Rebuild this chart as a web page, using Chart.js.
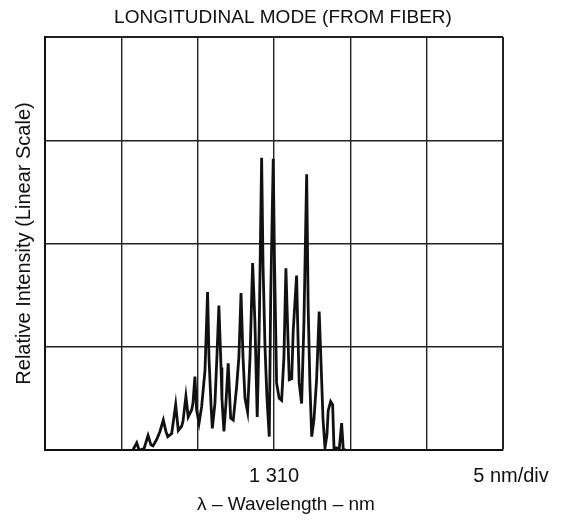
<!DOCTYPE html>
<html>
<head>
<meta charset="utf-8">
<script src="https://cdn.jsdelivr.net/npm/chart.js@4/dist/chart.umd.min.js"></script>
<style>
  html, body { margin: 0; padding: 0; background: #fff; }
  #wrap { width: 566px; height: 525px; }
</style>
</head>
<body>
<div id="wrap"><canvas id="graficaModo"></canvas></div>
<script>
// Longitudinal mode spectrum (from fiber)
const wavelengths = [
  1300.76, 1301.01, 1301.16, 1301.48, 1301.75, 1301.94, 1302.07, 1302.31, 1302.53, 1302.75,
  1302.92, 1303.04, 1303.30, 1303.56, 1303.73, 1303.95, 1304.04, 1304.23, 1304.38, 1304.61,
  1304.69, 1304.82, 1304.93, 1305.09, 1305.26, 1305.48, 1305.65, 1305.74, 1305.87, 1305.96,
  1306.13, 1306.26, 1306.39, 1306.53, 1306.59, 1306.72, 1306.85, 1307.00, 1307.16, 1307.33,
  1307.55, 1307.70, 1307.84, 1307.97, 1308.10, 1308.27, 1308.43, 1308.60, 1308.75, 1308.90,
  1309.03, 1309.19, 1309.28, 1309.41, 1309.54, 1309.69, 1309.78, 1309.95, 1310.03, 1310.17,
  1310.34, 1310.50, 1310.65, 1310.78, 1310.91, 1311.00, 1311.16, 1311.26, 1311.48, 1311.57,
  1311.65, 1311.81, 1311.96, 1312.14, 1312.24, 1312.35, 1312.47, 1312.62, 1312.79, 1312.96,
  1313.12, 1313.21, 1313.34, 1313.47, 1313.55, 1313.71, 1313.84, 1313.93, 1314.12, 1314.27,
  1314.43, 1314.54, 1314.71
];
const intensity = [
  0.00, 0.07, 0.00, 0.01, 0.14, 0.05, 0.04, 0.10, 0.18, 0.29,
  0.18, 0.13, 0.16, 0.44, 0.19, 0.23, 0.28, 0.52, 0.32, 0.39,
  0.45, 0.71, 0.39, 0.26, 0.42, 0.77, 1.53, 0.90, 0.45, 0.21,
  0.45, 0.90, 1.40, 0.80, 0.50, 0.18, 0.45, 0.84, 0.31, 0.29,
  0.61, 0.90, 1.52, 0.90, 0.50, 0.37, 0.90, 1.81, 1.24, 0.32,
  1.16, 2.83, 1.80, 1.00, 0.50, 0.13, 1.44, 2.82, 1.85, 0.65,
  0.50, 0.48, 0.90, 1.76, 1.10, 0.68, 0.69, 1.16, 1.69, 1.10,
  0.65, 0.45, 1.23, 2.67, 1.37, 0.65, 0.13, 0.30, 0.68, 1.34,
  0.68, 0.30, 0.02, 0.15, 0.38, 0.47, 0.44, 0.02, 0.02, 0.00,
  0.26, 0.00, 0.00
];
const xMin = 1295, xMax = 1325, xStep = 5;   // 5 nm/div
const yMin = 0, yMax = 4;
const centerTick = 1310;
const centerLabel = '1 310';

const puntos = wavelengths.map((w, i) => ({ x: w, y: intensity[i] }));
const fuente = 'Arial, "Liberation Sans", Helvetica, sans-serif';

// title, scale note and x title drawn as text on the canvas
const textosExtra = {
  id: 'textosExtra',
  afterDraw(chart) {
    const ctx = chart.ctx;
    ctx.save();
    ctx.fillStyle = '#111';
    ctx.textBaseline = 'middle';
    ctx.textAlign = 'center';
    ctx.font = '19px ' + fuente;
    ctx.fillText('LONGITUDINAL MODE (FROM FIBER)', 283, 18);
    ctx.font = '20px ' + fuente;
    ctx.fillText('5 nm/div', 511, 476);
    ctx.font = '19px ' + fuente;
    ctx.fillText('λ – Wavelength – nm', 286, 505);
    ctx.restore();
  }
};

const ctxModo = document.getElementById('graficaModo').getContext('2d');
const graficaModo = new Chart(ctxModo, {
  type: 'line',
  data: {
    datasets: [{
      data: puntos,
      borderColor: '#111',
      borderWidth: 2.8,
      pointRadius: 0,
      tension: 0,
      fill: false
    }]
  },
  options: {
    responsive: true,
    maintainAspectRatio: false,
    animation: false,
    layout: { padding: { left: 0, right: 63, top: 37, bottom: 0 } },
    plugins: {
      legend: { display: false },
      tooltip: { enabled: false },
      title: { display: false }
    },
    scales: {
      x: {
        type: 'linear',
        min: xMin,
        max: xMax,
        afterFit: s => { s.height = 75; },
        afterBuildTicks: s => {
          s.ticks = [];
          for (let v = xMin; v <= xMax; v += xStep) s.ticks.push({ value: v });
        },
        ticks: {
          autoSkip: false,
          maxRotation: 0,
          padding: 14,
          color: '#111',
          font: { family: fuente, size: 20 },
          callback: v => (v === centerTick ? centerLabel : '')
        },
        grid: {
          color: '#222',
          lineWidth: c => (c.tick && c.tick.value === xMax ? 2 : 1.4),
          drawTicks: false
        },
        border: { display: true, color: '#111', width: 2 }
      },
      y: {
        min: yMin,
        max: yMax,
        afterFit: s => { s.width = 45; },
        ticks: { display: false, stepSize: 1 },
        grid: {
          color: '#222',
          lineWidth: c => (c.tick && c.tick.value === yMax ? 2 : 1.4),
          drawTicks: false
        },
        border: { display: true, color: '#111', width: 2 },
        title: {
          display: true,
          text: 'Relative Intensity (Linear Scale)',
          color: '#111',
          font: { family: fuente, size: 20 },
          padding: { top: 12, bottom: 0 }
        }
      }
    }
  },
  plugins: [textosExtra]
});
</script>
</body>
</html>
